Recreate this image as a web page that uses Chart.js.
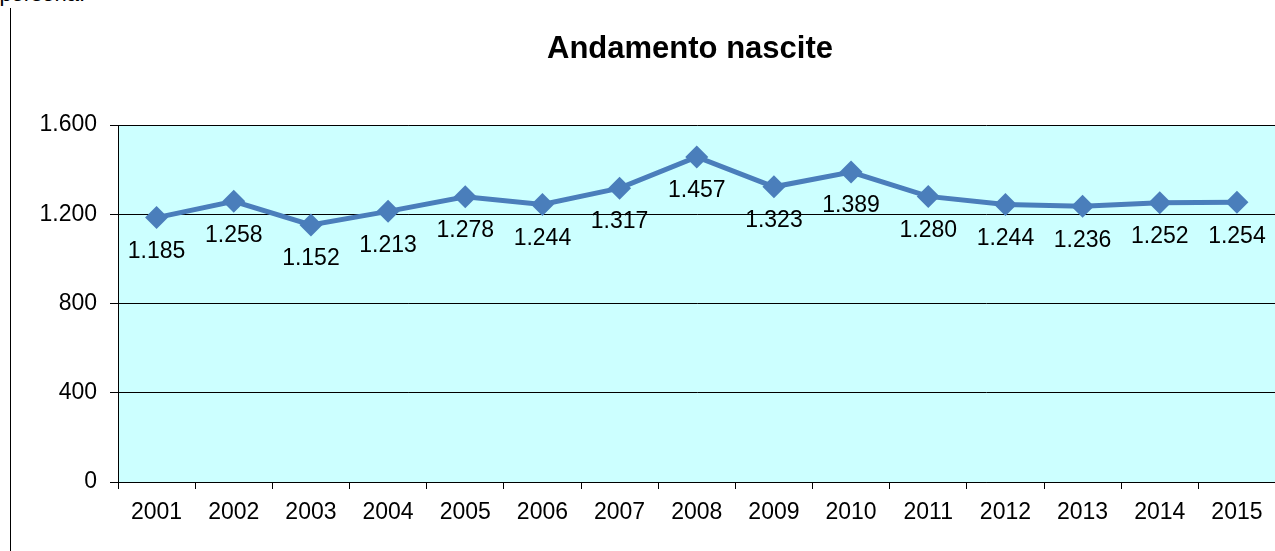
<!DOCTYPE html>
<html>
<head>
<meta charset="utf-8">
<script src="https://cdn.jsdelivr.net/npm/chart.js@4/dist/chart.umd.min.js"></script>
<style>
  html, body { margin: 0; padding: 0; background: #fff; overflow: hidden; }
  #wrap { position: relative; width: 1275px; height: 551px; overflow: hidden; }
  #box { position: absolute; left: 0; top: 0; width: 1287px; height: 551px; }
  #frame { position: absolute; left: 10px; top: 8px; width: 0; height: 560px; border-left: 1px solid #000; }
  #cut { position: absolute; right: 1190px; top: -19px; font: 22px "Liberation Sans", Arial, sans-serif; color: #000; white-space: nowrap; }
  #title { position: absolute; left: 0; top: 30px; width: 1380px; text-align: center; font: bold 31px/36px "Liberation Sans", Arial, sans-serif; color: #000; }
</style>
</head>
<body>
<div id="wrap">
  <div id="cut">persona.</div>
  <div id="frame"></div>
  <div id="box"><canvas id="chartCanvas" width="1287" height="551"></canvas></div>
  <div id="title">Andamento nascite</div>
</div>
<script>
"use strict";

const years = ["2001", "2002", "2003", "2004", "2005", "2006", "2007", "2008",
  "2009", "2010", "2011", "2012", "2013", "2014", "2015"];
const births = [1185, 1258, 1152, 1213, 1278, 1244, 1317, 1457, 1323, 1389,
  1280, 1244, 1236, 1252, 1254];
const yTicks = [0, 400, 800, 1200, 1600];

const FONT = "'Liberation Sans', Arial, sans-serif";

// separatore migliaia con il punto
function fmt(n) {
  return String(n).replace(/\B(?=(\d{3})+(?!\d))/g, ".");
}

const plotBackground = {
  id: "plotBackground",
  beforeDraw(chart) {
    const { ctx, chartArea } = chart;
    ctx.save();
    ctx.fillStyle = "#CCFFFF";
    ctx.fillRect(chartArea.left, chartArea.top,
      chartArea.right - chartArea.left, chartArea.bottom - chartArea.top);
    ctx.restore();
  }
};

const valueLabels = {
  id: "valueLabels",
  afterDatasetsDraw(chart) {
    const { ctx } = chart;
    const meta = chart.getDatasetMeta(0);
    ctx.save();
    ctx.font = "23px " + FONT;
    ctx.fillStyle = "#000";
    ctx.textAlign = "center";
    ctx.textBaseline = "middle";
    meta.data.forEach((pt, i) => {
      ctx.fillText(fmt(births[i]), pt.x, pt.y + 34);
    });
    ctx.restore();
  }
};

document.addEventListener("DOMContentLoaded", () => {
  const ctx = document.querySelector("#chartCanvas").getContext("2d");

  new Chart(ctx, {
    type: "line",
    data: {
      labels: years,
      datasets: [
        {
          label: "Nascite",
          data: births,
          borderColor: "#4A7EBB",
          backgroundColor: "#4A7EBB",
          borderWidth: 5,
          pointStyle: "rectRot",
          pointRadius: 11.5,
          pointBorderWidth: 0,
          tension: 0,
          fill: false
        }
      ]
    },
    options: {
      responsive: false,
      animation: false,
      layout: { padding: { left: 0, right: 0, top: 125, bottom: 0 } },
      plugins: {
        legend: { display: false },
        tooltip: { enabled: false },
        title: { display: false }
      },
      scales: {
        x: {
          offset: true,
          grid: {
            offset: true,
            drawOnChartArea: false,
            drawTicks: true,
            tickLength: 7,
            color: "#000",
            lineWidth: 1
          },
          border: { display: true, color: "#000", width: 1 },
          ticks: {
            color: "#000",
            font: { family: FONT, size: 23 },
            padding: 10,
            maxRotation: 0,
            autoSkip: false
          },
          afterFit(scale) { scale.height = 69; }
        },
        y: {
          min: 0,
          max: 1600,
          afterBuildTicks(scale) {
            scale.ticks = yTicks.map(v => ({ value: v }));
          },
          grid: {
            color: "#000",
            lineWidth: 1,
            drawTicks: true,
            tickLength: 8
          },
          border: { display: true, color: "#000", width: 1 },
          ticks: {
            color: "#000",
            font: { family: FONT, size: 23 },
            padding: 13,
            callback: v => fmt(v)
          },
          afterFit(scale) { scale.width = 118; }
        }
      }
    },
    plugins: [plotBackground, valueLabels]
  });
});
</script>
</body>
</html>
